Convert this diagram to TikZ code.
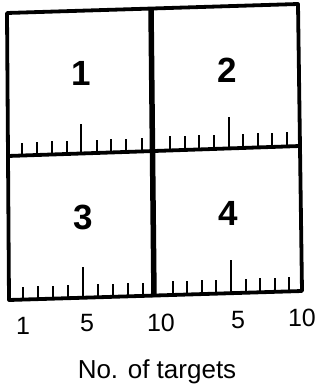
\documentclass[tikz,border=0pt]{standalone}
\usepackage{fontspec}
\setmainfont{Liberation Sans}
\usetikzlibrary{calc}
\begin{document}
\begin{tikzpicture}[x=1pt,y=-1pt,
  frame/.style={line width=3.8pt,line cap=round,line join=round},
  divider/.style={line width=5.5pt},
  tickmark/.style={line width=2.8pt},
  quadlabel/.style={font=\fontsize{35}{35}\selectfont\bfseries,inner sep=0pt},
  axlabel/.style={font=\fontsize{25}{25}\selectfont,inner sep=0pt},
  titlelabel/.style={font=\fontsize{26}{26}\selectfont,inner sep=0pt}]
\useasboundingbox (0,0) rectangle (322,391);
\fill[white] (0,0) rectangle (322,391);
% corners
\coordinate (TL) at (7,13);
\coordinate (TR) at (298,4);
\coordinate (ML) at (8,156);
\coordinate (MR) at (300,146);
\coordinate (BL) at (9,300);
\coordinate (BR) at (302,291);
\coordinate (DT) at (151,8);
\coordinate (DB) at (154,297);
% frame
\draw[frame] (TL) -- (TR) -- (BR) -- (BL) -- cycle;
\draw[frame] (ML) -- (MR);
\draw[divider] (DT) -- (DB);
% ticks on middle line
\foreach \x/\h in {22/13,37/13,52/13,67/13,81/30,97/13,111/13,126/13,142/13,
                   170/14,185/14,199/14,214/14,229/31,243/14,258/14,272/14,287/14}{
  \pgfmathsetmacro{\t}{(\x-8)/292}
  \draw[tickmark] ($(ML)!\t!(MR)$) -- ++(0,-\h);
}
% ticks on bottom line
\foreach \x/\h in {23/13,38/13,53/13,68/13,83/31,98/13,113/13,128/13,143/13,
                   173/14,187/14,202/14,216/14,231/33,246/14,260/14,275/14,289/14}{
  \pgfmathsetmacro{\t}{(\x-9)/293}
  \draw[tickmark] ($(BL)!\t!(BR)$) -- ++(0,-\h);
}
% quadrant labels
\node[quadlabel] (q1) at (81,73) {1};
\node[quadlabel] (q2) at (227,70) {2};
\node[quadlabel] (q3) at (83,217) {3};
\node[quadlabel] (q4) at (228,213) {4};
% axis labels
\node[axlabel] (a1) at (23,326) {1};
\node[axlabel] (a5) at (87,323) {5};
\node[axlabel] (a10) at (161,323) {10};
\node[axlabel] (b5) at (238,320) {5};
\node[axlabel] (b10) at (302,318) {10};
\node[titlelabel] (title) at (157,372) {No. of targets};
\end{tikzpicture}
\end{document}
